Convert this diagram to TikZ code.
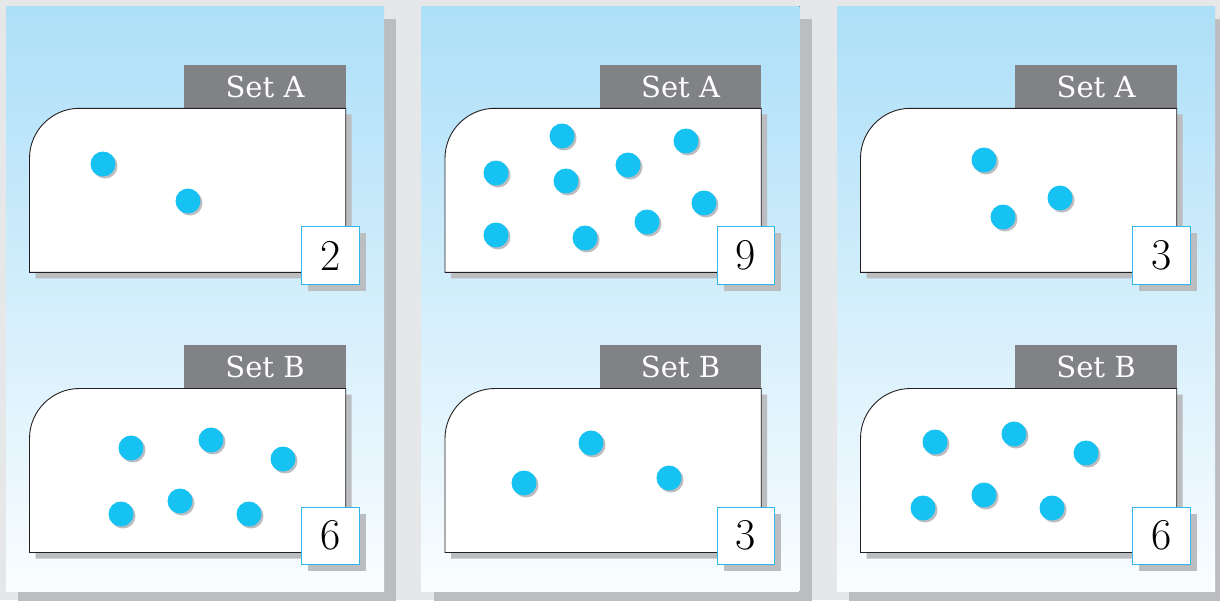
\documentclass[tikz,border=0pt]{standalone}
\usepackage{fontspec}
\newfontfamily\tabfont{DejaVu Serif}
\definecolor{bggray}{RGB}{230,231,233}
\definecolor{shadegray}{RGB}{188,189,192}
\definecolor{skytop}{RGB}{172,223,248}
\definecolor{skybottom}{RGB}{250,253,255}
\definecolor{tabgray}{RGB}{128,130,133}
\definecolor{dotblue}{RGB}{22,194,242}
\definecolor{boxblue}{RGB}{45,183,234}
\definecolor{inkline}{RGB}{35,31,32}
\tikzset{
  panelbg/.style={top color=skytop, bottom color=skybottom, draw=none},
  shadowfill/.style={fill=shadegray, draw=none},
  cardfill/.style={fill=white, draw=inkline, line width=0.9pt},
  tabbox/.style={fill=tabgray, text=white, inner sep=0pt, minimum width=161.7pt,
    minimum height=44pt, font=\tabfont\fontsize{29}{29}\selectfont, anchor=north west},
  numbox/.style={draw=boxblue, line width=1pt, fill=white, minimum size=57.5pt,
    inner sep=0pt, font=\fontsize{44}{44}\selectfont, anchor=north west},
  dotnode/.style={circle, fill=dotblue, minimum size=25pt, inner sep=0pt},
}
\newcommand\setcard[6]{%
  \pgfmathsetmacro\cL{#2+23.5}%
  \pgfmathsetmacro\cR{#2+339.7}%
  \pgfmathsetmacro\cT{#3}%
  \pgfmathsetmacro\cB{#3+164}%
  \pgfmathsetmacro\tL{#2+178}%
  \pgfmathsetmacro\bL{#2+295}%
  \node[tabbox] (tab#1) at (\tL,\cT-44) {#4};
  \begin{scope}[shift={(6,6)}]
    \fill[shadowfill] (\cL,\cB) -- (\cL,\cT+50) .. controls (\cL,\cT+22.4) and (\cL+22.4,\cT) .. (\cL+50,\cT) -- (\cR,\cT) -- (\cR,\cB) -- cycle;
  \end{scope}
  \draw[cardfill] (\cL,\cB) -- (\cL,\cT+50) .. controls (\cL,\cT+22.4) and (\cL+22.4,\cT) .. (\cL+50,\cT) -- (\cR,\cT) -- (\cR,\cB) -- cycle;
  \foreach \x/\y [count=\k] in {#6} {
    \fill[shadowfill] (\x+2,\y+2) circle[radius=12.5];
    \node[dotnode] (dot#1\k) at (\x,\y) {};
  }
  \fill[shadowfill] (\bL+7,\cT+125) rectangle (\bL+64.5,\cT+182.5);
  \node[numbox] (num#1) at (\bL,\cT+118) {#5};
}
\begin{document}
\begin{tikzpicture}[x=1pt,y=-1pt]
  \useasboundingbox (0,0) rectangle (1220,600);
  \clip (0,0) rectangle (1220,600);
  \fill[bggray] (0,0) rectangle (1220,600);
  % panels
  \foreach \p in {6,421.5,837} {
    \fill[shadowfill] (\p+12,19) rectangle (\p+390,610);
    \fill[panelbg] (\p,6) rectangle (\p+378,591.5);
  }
  % panel 1
  \setcard{oneA}{6}{108.3}{Set A}{2}{103/164, 188/201}
  \setcard{oneB}{6}{388.5}{Set B}{6}{131/448, 211/440, 283/459, 121/514, 180/501, 249/514}
  % panel 2
  \setcard{twoA}{421.5}{108.3}{Set A}{9}{496/173, 562/136, 566/181, 628/165, 686/141, 704/203, 496/235, 585/238, 647/222}
  \setcard{twoB}{421.5}{388.5}{Set B}{3}{524/483, 591/443, 669/478}
  % panel 3
  \setcard{threeA}{837}{108.3}{Set A}{3}{984/160, 1060/198, 1003/217}
  \setcard{threeB}{837}{388.5}{Set B}{6}{935/442, 1014/434, 1086/453, 923/508, 984/495, 1052/508}
\end{tikzpicture}
\end{document}
